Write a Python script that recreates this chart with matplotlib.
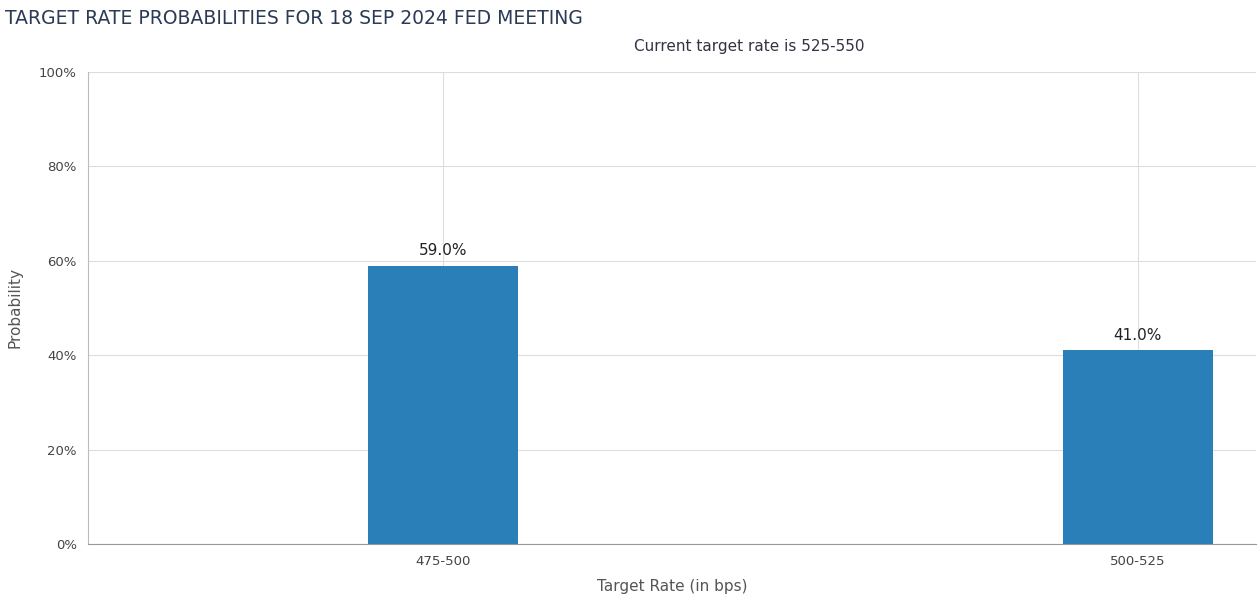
import matplotlib.pyplot as plt

categories = ["475-500", "500-525"]
probs = [59.0, 41.0]
yticks = [0, 20, 40, 60, 80, 100]

W, H = 1258, 598
fig = plt.figure(figsize=(W / 100, H / 100), dpi=100)
ax = fig.add_axes([88 / W, 1 - 544 / H, (1256 - 88) / W, (544 - 72) / H])

x = list(range(len(categories)))
ax.bar(x, probs, width=0.216, color="#2a7fb8", zorder=3)
for xi, p in zip(x, probs):
    ax.text(xi, p + 1.5, f"{p:.1f}%", ha="center", va="bottom", fontsize=11, color="#222222")

ax.set_xlim(-0.511, 1.170)
ax.set_ylim(0, 100)
ax.set_xticks(x)
ax.set_xticklabels(categories)
ax.set_yticks(yticks)
ax.set_yticklabels([f"{t}%" for t in yticks])
ax.tick_params(labelsize=9.5, colors="#444444", length=0, pad=8)
ax.grid(True, color="#dddddd", lw=0.8, zorder=0)
for s in ["top", "right"]:
    ax.spines[s].set_visible(False)
ax.spines["left"].set_color("#bbbbbb")
ax.spines["bottom"].set_color("#999999")
ax.set_xlabel("Target Rate (in bps)", fontsize=11, color="#555555", labelpad=8)
ax.set_ylabel("Probability", fontsize=11, color="#555555", labelpad=12)

fig.text(5 / W, 1 - 18 / H, "TARGET RATE PROBABILITIES FOR 18 SEP 2024 FED MEETING",
         fontsize=13.5, color="#2b3a55", va="center", ha="left")
fig.text(749 / W, 1 - 46 / H, "Current target rate is 525-550",
         fontsize=11, color="#333344", va="center", ha="center")

fig.savefig("out.png", dpi=100)
